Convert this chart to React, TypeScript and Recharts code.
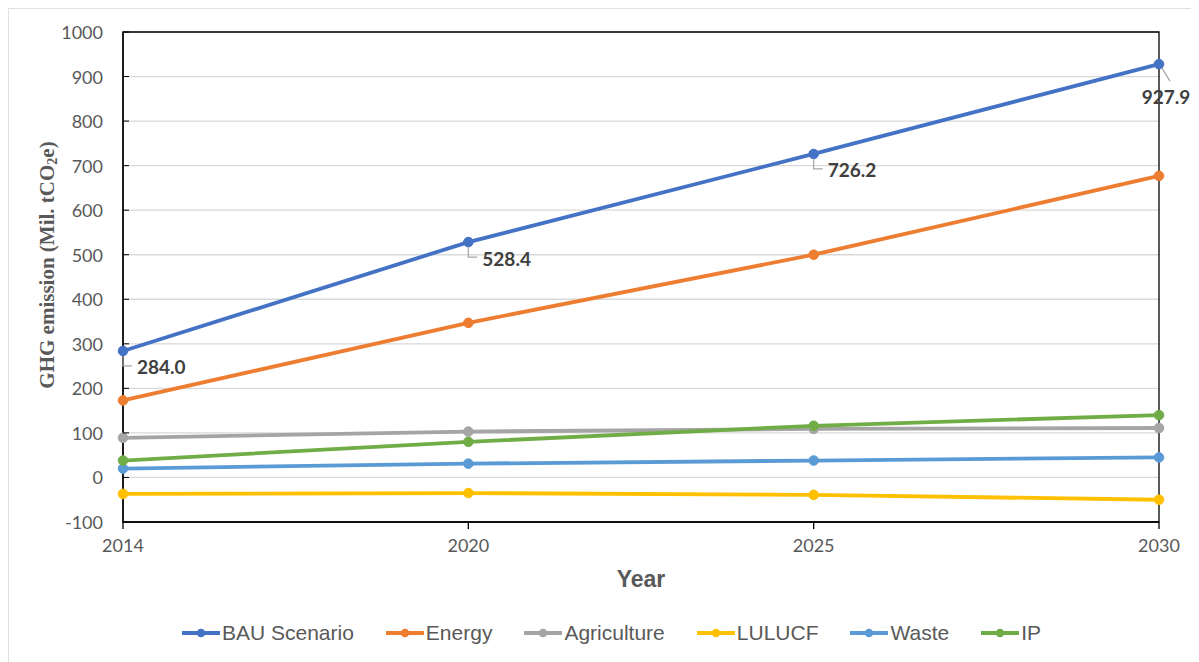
import React from "react";
import {
  LineChart,
  Line,
  XAxis,
  YAxis,
  CartesianGrid,
  Legend,
  LabelList,
  ReferenceArea,
} from "recharts";

const years = ["2014", "2020", "2025", "2030"];
const bau = [284.0, 528.4, 726.2, 927.9];
const energy = [173, 347, 500, 677];
const agriculture = [89, 103, 109, 111];
const lulucf = [-37, -35, -39, -50];
const waste = [20, 31, 38, 45];
const ip = [38, 80, 116, 140];
const yTicks = [-100, 0, 100, 200, 300, 400, 500, 600, 700, 800, 900, 1000];

const seriesList = [
  { key: "bau", name: "BAU Scenario", color: "#4472C4", values: bau },
  { key: "energy", name: "Energy", color: "#ED7D31", values: energy },
  { key: "agriculture", name: "Agriculture", color: "#A5A5A5", values: agriculture },
  { key: "lulucf", name: "LULUCF", color: "#FFC000", values: lulucf },
  { key: "waste", name: "Waste", color: "#5B9BD5", values: waste },
  { key: "ip", name: "IP", color: "#70AD47", values: ip },
];

const data = years.map((year, i) => {
  const row: Record<string, number | string> = { year };
  seriesList.forEach((s) => {
    row[s.key] = s.values[i];
  });
  return row;
});

const tickFont = "Lato, 'Open Sans', sans-serif";

const YTick = (props: any) => {
  const { x, y, payload } = props;
  return (
    <g>
      <line x1={x + 20} x2={x + 26} y1={y} y2={y} stroke="#000" strokeWidth={1} />
      <text x={x} y={y} textAnchor="end" dominantBaseline="central" fontSize={18} fill="#595959" fontFamily={tickFont}>
        {payload.value}
      </text>
    </g>
  );
};

const BauLabel = (props: any) => {
  const { x, y, index, value } = props;
  const txt = Number(value).toFixed(1);
  if (index === 3) {
    return (
      <g>
        <line x1={x + 3} y1={y + 4} x2={x + 11} y2={y + 17} stroke="#A5A5A5" strokeWidth={1.2} />
        <text x={x + 7} y={y + 32} textAnchor="middle" dominantBaseline="central" fontSize={19} fontWeight="bold" fill="#404040" fontFamily={tickFont}>
          {txt}
        </text>
      </g>
    );
  }
  return (
    <g>
      <path d={`M${x},${y + 5} L${x},${y + 15} L${x + 9},${y + 15}`} fill="none" stroke="#A5A5A5" strokeWidth={1.2} />
      <text x={x + 14} y={y + 16} dominantBaseline="central" fontSize={19} fontWeight="bold" fill="#404040" fontFamily={tickFont}>
        {txt}
      </text>
    </g>
  );
};

const LegendContent = () => (
  <div style={{ display: "flex", justifyContent: "center", alignItems: "center", gap: 31, paddingLeft: 16 }}>
    {seriesList.map((s) => (
      <div key={s.key} style={{ display: "flex", alignItems: "center" }}>
        <svg width={40} height={12}>
          <line x1={1} x2={39} y1={6} y2={6} stroke={s.color} strokeWidth={3.8} />
          <circle cx={20} cy={6} r={4.3} fill={s.color} />
        </svg>
        <span style={{ fontFamily: "'Liberation Sans', Arial, sans-serif", fontSize: 21, color: "#595959", marginLeft: 1 }}>
          {s.name}
        </span>
      </div>
    ))}
  </div>
);

const YLabel = () => (
  <text
    x={38}
    y={256}
    transform="rotate(-90 38 256)"
    textAnchor="middle"
    dominantBaseline="central"
    fontFamily="'Liberation Serif', 'Times New Roman', serif"
    fontWeight="bold"
    fontSize={21}
    fill="#595959"
  >
    GHG emission (Mil. tCO
    <tspan fontSize={14} dy={5}>2</tspan>
    <tspan dy={-5}>e)</tspan>
  </text>
);

const XLabel = (props: any) => {
  const { viewBox } = props;
  const cx = viewBox.x + viewBox.width / 2;
  return (
    <text x={cx} y={570} textAnchor="middle" dominantBaseline="central" fontFamily="'Liberation Sans', Arial, sans-serif" fontWeight="bold" fontSize={23} fill="#595959">
      Year
    </text>
  );
};

export default function App() {
  return (
    <div style={{ width: 1188, height: 660, border: "1.5px solid #e0e0e0", boxSizing: "content-box", background: "#fff" }}>
      <LineChart width={1188} height={652} data={data} margin={{ top: 23, right: 38, left: 0, bottom: 0 }}>
        <CartesianGrid horizontal vertical={false} stroke="#d9d9d9" strokeWidth={1.3} />
        <XAxis
          dataKey="year"
          height={139}
          axisLine={{ stroke: "#000", strokeWidth: 1.3 }}
          tickLine={{ stroke: "#000", strokeWidth: 1.3 }}
          tickSize={7}
          tickMargin={10}
          tick={{ fontSize: 18, fill: "#595959", fontFamily: tickFont }}
          label={<XLabel />}
        />
        <YAxis
          width={114}
          domain={[-100, 1000]}
          ticks={yTicks}
          interval={0}
          axisLine={{ stroke: "#000", strokeWidth: 1.3 }}
          tickLine={false}
          tickSize={0}
          tickMargin={20}
          tick={<YTick />}
          label={<YLabel />}
        />
        <ReferenceArea x1="2014" x2="2030" y1={-100} y2={1000} fill="none" stroke="#000" strokeWidth={1.3} fillOpacity={0} />
        {seriesList.map((s) => (
          <Line
            key={s.key}
            type="linear"
            dataKey={s.key}
            name={s.name}
            stroke={s.color}
            strokeWidth={3.8}
            dot={{ r: 4.8, fill: s.color, stroke: s.color, strokeWidth: 1 }}
            activeDot={false}
            isAnimationActive={false}
          >
            {s.key === "bau" ? <LabelList dataKey="bau" content={<BauLabel />} /> : null}
          </Line>
        ))}
        <Legend
          verticalAlign="middle"
          align="center"
          layout="horizontal"
          content={<LegendContent />}
          wrapperStyle={{ top: 612, left: 0, width: 1188 }}
        />
      </LineChart>
    </div>
  );
}
